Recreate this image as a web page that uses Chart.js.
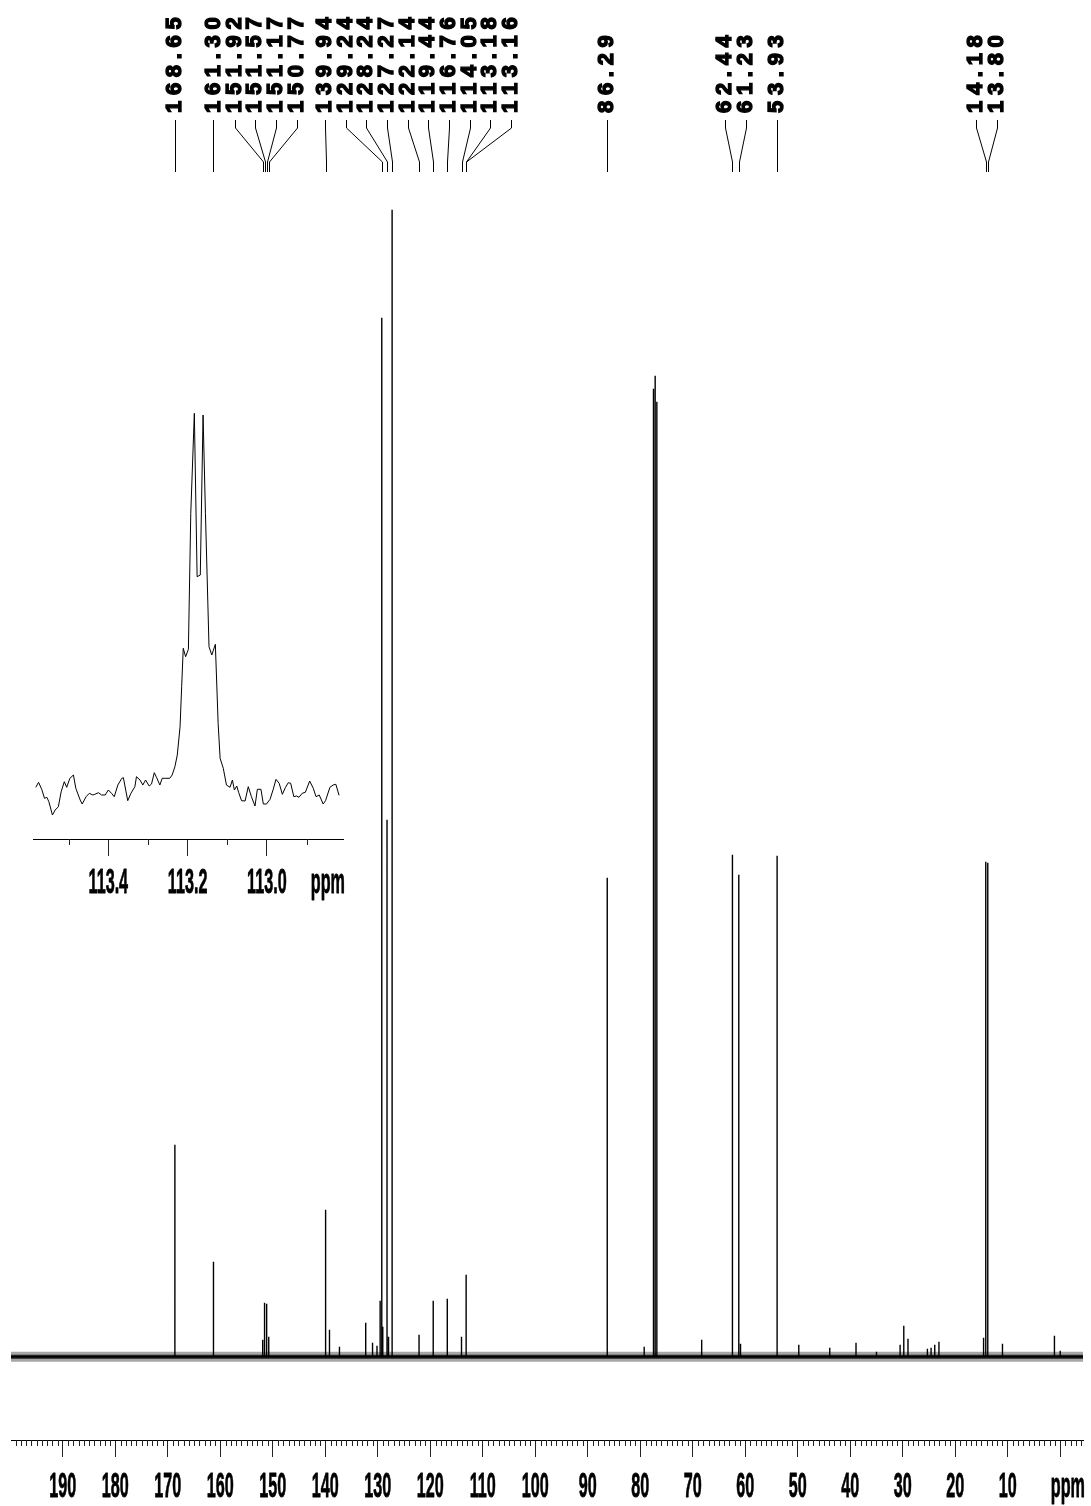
<!DOCTYPE html>
<html>
<head>
<meta charset="utf-8">
<title>13C NMR spectrum</title>
<script src="https://cdn.jsdelivr.net/npm/chart.js@4.4.1/dist/chart.umd.min.js"></script>
<style>
  html, body { margin: 0; padding: 0; background: #fff; }
  #wrap { position: relative; width: 1091px; height: 1506px; }
  #wrap canvas { position: absolute; left: 0; top: 0; }
</style>
</head>
<body>
<div id="wrap">
  <canvas id="spectrum" width="1091" height="1506"></canvas>
  <canvas id="inset" width="1091" height="1506"></canvas>
</div>
<script>
// labelled peaks: shift (ppm) and height
var peakPpm = [168.65, 161.30, 151.92, 151.57, 151.17, 150.77, 139.94, 129.24, 128.24, 127.27,
               122.14, 119.44, 116.76, 114.05, 113.18, 113.16, 86.29, 62.44, 61.23, 53.93, 14.18, 13.80];
var peakHeight = [212, 95, 17, 54, 53, 20, 147, 1039, 537, 1147,
                  22, 56, 58, 20, 82, 82, 479, 502, 482, 501, 495, 494];

// small unlabelled signals and the CDCl3 triplet
var minorPpm = [139.20, 137.30, 132.30, 131.00, 130.15, 129.55, 129.05, 127.95, 79.25, 77.48, 77.16, 76.84,
                68.30, 60.90, 49.80, 43.90, 38.90, 35.00, 30.50, 29.80, 29.00, 25.30, 24.60, 23.90, 23.10,
                14.60, 11.00, 1.10, 0.00];
var minorHeight = [27, 10, 34, 14, 11, 56, 30, 20, 10, 968, 981, 955,
                   17, 13, 12, 9, 14, 5, 12, 31, 18, 8, 9, 12, 15,
                   19, 13, 21, 6];

// axis
var majorTicks = [190, 180, 170, 160, 150, 140, 130, 120, 110, 100, 90, 80, 70, 60, 50, 40, 30, 20, 10, 0];
var tickLabels = ['190', '180', '170', '160', '150', '140', '130', '120', '110', '100',
                  '90', '80', '70', '60', '50', '40', '30', '20', '10', ''];
var unitLabel = 'ppm';
var ppmMax = 199.87, ppmMin = -4.34;

// expansion of the 113.2 ppm signal
var insetPpm = [113.583, 113.576, 113.568, 113.561, 113.555, 113.550, 113.541, 113.534, 113.526, 113.519,
                113.511, 113.505, 113.497, 113.488, 113.482, 113.471, 113.466, 113.456, 113.448, 113.439,
                113.434, 113.425, 113.417, 113.408, 113.400, 113.392, 113.385, 113.376, 113.366, 113.362,
                113.351, 113.343, 113.333, 113.329, 113.320, 113.313, 113.306, 113.297, 113.291, 113.284,
                113.278, 113.270, 113.264, 113.255, 113.245, 113.239, 113.232, 113.226, 113.219, 113.215,
                113.211, 113.205, 113.198, 113.192, 113.183, 113.176, 113.168, 113.161, 113.155, 113.146,
                113.139, 113.130, 113.123, 113.118, 113.110, 113.102, 113.093, 113.087, 113.082, 113.076,
                113.071, 113.064, 113.055, 113.047, 113.039, 113.030, 113.024, 113.015, 113.009, 113.001,
                112.992, 112.984, 112.977, 112.969, 112.961, 112.953, 112.946, 112.940, 112.932, 112.925,
                112.919, 112.911, 112.903, 112.892, 112.883, 112.876, 112.868, 112.858, 112.852, 112.841,
                112.833, 112.826, 112.818];
var insetIntensity = [5.7, 10.7, 3.7, -5.3, -4.3, -8.7, -22, -17, -13.7, 1.3,
                      11.3, 5.7, 14.7, 18, 4.7, -7, -11, -3.7, -0.3, -2,
                      -1.3, 0.3, -2, -2, 3, -0.3, -3.7, 8, 14.7, 15.3,
                      -7.7, -0.3, 6.3, 16.3, 13, 8, 13, 7, 9, 20.3,
                      15.3, 8, 14.7, 14.7, 14.7, 18, 26.3, 38, 66.3, 106.3,
                      144.7, 136.3, 143.7, 279.7, 379.7, 216.3, 218, 378, 279.7, 146.3,
                      138, 148.7, 69.7, 34.7, 24.7, 8, 5.7, 13, 3, 7,
                      0.3, -7.7, -8, 6.3, -3.7, -13, 3.7, 3.7, -11, -11,
                      -6.3, 3.7, 13.7, 9.7, -1.3, 5.7, 10.3, 9.7, -3.7, -3,
                      -4.3, -0.3, 0.7, 12, 4.7, -3.7, -2, -11, -7.7, 5.7,
                      8, 8.7, -2.3];
var insetTicks = [113.4, 113.2, 113.0];
var insetTickLabels = ['113.4', '113.2', '113.0'];
var insetMin = 112.808, insetMax = 113.59;

var AXIS_FONT = 'bold 35px "Liberation Sans Narrow", "Liberation Sans", Arial, sans-serif';

// condensed label text, like the plotter output
function squeezeText(ctx, text, x, y, align) {
  ctx.save();
  ctx.font = AXIS_FONT;
  var sx = 27 / ctx.measureText('000').width;
  ctx.translate(x, y);
  ctx.scale(sx, 1);
  ctx.textAlign = align;
  ctx.textBaseline = 'alphabetic';
  ctx.fillStyle = '#000';
  ctx.strokeStyle = '#000';
  ctx.lineWidth = 0.8;
  ctx.lineJoin = 'round';
  ctx.fillText(text, 0, 0);
  ctx.strokeText(text, 0, 0);
  ctx.restore();
}

// minor ticks + labels below the axis
var nmrAxis = {
  id: 'nmrAxis',
  afterDraw: function(chart, args, opts) {
    var ctx = chart.ctx, xs = chart.scales.x, area = chart.chartArea;
    ctx.save();
    ctx.strokeStyle = '#222';
    ctx.lineWidth = 1;
    var step = opts.minorStep;
    var first = Math.ceil(xs.min / step - 1e-6);
    var last = Math.floor(xs.max / step + 1e-6);
    ctx.beginPath();
    for (var k = first; k <= last; k++) {
      var v = k * step;
      var isMajor = opts.ticks.some(function(t) { return Math.abs(t - v) < step / 100; });
      if (isMajor) continue;
      var px = Math.round(xs.getPixelForValue(v)) + 0.5;
      ctx.moveTo(px, area.bottom);
      ctx.lineTo(px, area.bottom + opts.minorLen);
    }
    ctx.stroke();
    ctx.restore();
    opts.ticks.forEach(function(v, i) {
      if (opts.labels[i]) squeezeText(ctx, opts.labels[i], xs.getPixelForValue(v), opts.labelY, 'center');
    });
    squeezeText(ctx, unitLabel, area.right + 2, opts.labelY, 'right');
  }
};

// spread labels so they do not overlap, keeping each group centred on its peaks
function spread(xs, gap) {
  var groups = [];
  xs.forEach(function(x) {
    groups.push({sum: x, n: 1});
    while (groups.length > 1) {
      var b = groups[groups.length - 1], a = groups[groups.length - 2];
      var aStart = a.sum / a.n - (a.n - 1) * gap / 2;
      var bStart = b.sum / b.n - (b.n - 1) * gap / 2;
      if (bStart < aStart + a.n * gap) {
        a.sum += b.sum; a.n += b.n; groups.pop();
      } else break;
    }
  });
  var out = [];
  groups.forEach(function(g) {
    var s = g.sum / g.n - (g.n - 1) * gap / 2;
    for (var i = 0; i < g.n; i++) out.push(s + i * gap);
  });
  return out;
}

var peakLabels = {
  id: 'peakLabels',
  afterDraw: function(chart) {
    var ctx = chart.ctx, xs = chart.scales.x;
    var items = peakPpm.map(function(p) { return {ppm: p, px: xs.getPixelForValue(p)}; })
      .sort(function(a, b) { return a.px - b.px; });
    var pos = spread(items.map(function(it) { return it.px; }), 20.7);
    ctx.save();
    ctx.strokeStyle = '#000';
    ctx.fillStyle = '#000';
    ctx.lineWidth = 1;
    items.forEach(function(it, i) {
      var lx = Math.round(pos[i]) + 0.5, px = Math.round(it.px) + 0.5;
      ctx.beginPath();
      ctx.moveTo(lx, 120);
      ctx.lineTo(lx, 128);
      ctx.lineTo(px, 162);
      ctx.lineTo(px, 172);
      ctx.stroke();
      ctx.save();
      ctx.translate(pos[i], 113);
      ctx.rotate(-Math.PI / 2);
      ctx.font = 'bold 22px "Liberation Sans", Arial, sans-serif';
      ctx.textBaseline = 'middle';
      ctx.textAlign = 'left';
      ctx.lineWidth = 1.4;
      var s = it.ppm.toFixed(2), off = 0;
      for (var c = 0; c < s.length; c++) {
        ctx.fillText(s[c], off, 0);
        ctx.strokeText(s[c], off, 0);
        off += ctx.measureText(s[c]).width + 5.7;
      }
      ctx.restore();
    });
    ctx.restore();
  }
};

// stick spectrum from the peak lists
var allPeaks = peakPpm.map(function(p, i) { return {p: p, h: peakHeight[i]}; })
  .concat(minorPpm.map(function(p, i) { return {p: p, h: minorHeight[i]}; }))
  .sort(function(a, b) { return b.p - a.p; });
var spectrumPts = [{x: ppmMax, y: 0}];
allPeaks.forEach(function(pk) {
  spectrumPts.push({x: pk.p, y: 0}, {x: pk.p, y: pk.h}, {x: pk.p, y: 0});
});
spectrumPts.push({x: ppmMin, y: 0});

var baseline = [{x: ppmMax, y: 0}, {x: ppmMin, y: 0}];

new Chart(document.getElementById('spectrum'), {
  type: 'line',
  data: {
    datasets: [{
      // noise band around the baseline
      data: baseline,
      borderColor: 'rgba(0,0,0,0.35)',
      borderWidth: 10,
      pointRadius: 0
    }, {
      data: baseline,
      borderColor: 'rgba(0,0,0,0.8)',
      borderWidth: 4,
      pointRadius: 0
    }, {
      data: spectrumPts,
      borderColor: '#000',
      borderWidth: 1.4,
      pointRadius: 0,
      tension: 0
    }]
  },
  options: {
    responsive: false,
    animation: false,
    devicePixelRatio: 1,
    events: [],
    layout: { padding: { left: 11, right: 8, top: 200, bottom: 0 } },
    scales: {
      x: {
        type: 'linear',
        reverse: true,
        min: ppmMin,
        max: ppmMax,
        afterBuildTicks: function(scale) { scale.ticks = majorTicks.map(function(v) { return {value: v}; }); },
        afterFit: function(scale) { scale.height = 66; },
        grid: { drawOnChartArea: false, drawTicks: true, tickLength: 17, color: '#222', lineWidth: 1 },
        border: { display: true, color: '#000', width: 1 },
        ticks: { display: false }
      },
      y: { display: false, min: -83.3, max: 1156.7 }
    },
    plugins: {
      legend: { display: false },
      tooltip: { enabled: false },
      nmrAxis: { minorStep: 1, minorLen: 6, ticks: majorTicks, labels: tickLabels, labelY: 1497 }
    }
  },
  plugins: [nmrAxis, peakLabels]
});

new Chart(document.getElementById('inset'), {
  type: 'line',
  data: {
    datasets: [{
      data: insetPpm.map(function(p, i) { return {x: p, y: insetIntensity[i]}; }),
      borderColor: '#000',
      borderWidth: 1,
      pointRadius: 0,
      tension: 0
    }]
  },
  options: {
    responsive: false,
    animation: false,
    devicePixelRatio: 1,
    events: [],
    layout: { padding: { left: 33, right: 748, top: 400, bottom: 0 } },
    scales: {
      x: {
        type: 'linear',
        reverse: true,
        min: insetMin,
        max: insetMax,
        afterBuildTicks: function(scale) { scale.ticks = insetTicks.map(function(v) { return {value: v}; }); },
        afterFit: function(scale) { scale.height = 667; },
        grid: { drawOnChartArea: false, drawTicks: true, tickLength: 17, color: '#222', lineWidth: 1 },
        border: { display: true, color: '#000', width: 1 },
        ticks: { display: false }
      },
      y: { display: false, min: -46, max: 393 }
    },
    plugins: {
      legend: { display: false },
      tooltip: { enabled: false },
      nmrAxis: { minorStep: 0.1, minorLen: 6, ticks: insetTicks, labels: insetTickLabels, labelY: 893 }
    }
  },
  plugins: [nmrAxis]
});
</script>
</body>
</html>
